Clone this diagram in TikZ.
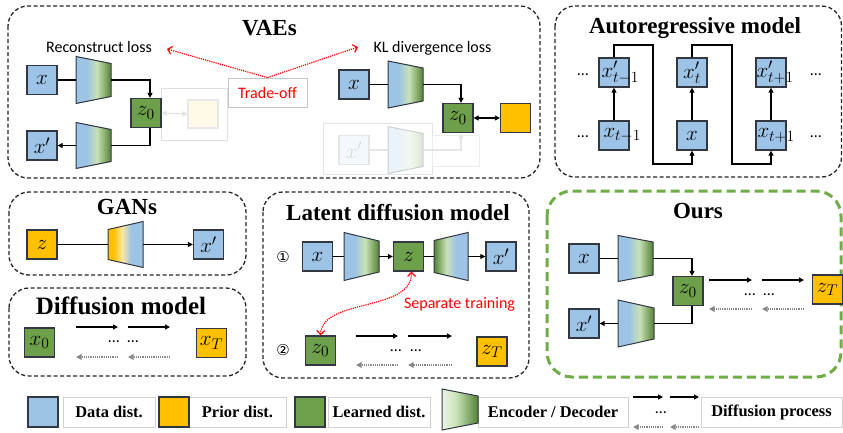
\RequirePackage{fix-cm}
\documentclass[tikz,border=0pt]{standalone}
\usepackage[no-math]{fontspec}
\setmainfont{Liberation Serif}
\newfontfamily\sansf{Carlito}
\newfontfamily\symf{DejaVu Sans}
\usetikzlibrary{arrows.meta}
\DeclareMathSizes{21}{21}{15.5}{11}
\definecolor{cblue}{RGB}{157,195,230}
\definecolor{cyellow}{RGB}{255,192,0}
\definecolor{cgreen}{RGB}{110,160,75}
\definecolor{cborder}{RGB}{50,55,65}
\definecolor{lgreen}{RGB}{200,226,182}
\definecolor{dgreen}{RGB}{84,130,53}
\definecolor{lyellow}{RGB}{255,232,160}
\definecolor{oursgreen}{RGB}{112,173,71}
\definecolor{dotgray}{RGB}{135,135,135}
\definecolor{palegreen}{RGB}{236,245,230}
\pgfdeclarehorizontalshading{encsh}{100bp}{color(0bp)=(cblue); color(40bp)=(cblue); color(55bp)=(lgreen); color(75bp)=(dgreen); color(100bp)=(dgreen)}
\pgfdeclarehorizontalshading{decsh}{100bp}{color(0bp)=(dgreen); color(25bp)=(dgreen); color(43bp)=(lgreen); color(58bp)=(cblue); color(100bp)=(cblue)}
\pgfdeclarehorizontalshading{gansh}{100bp}{color(0bp)=(cyellow); color(33bp)=(cyellow); color(45bp)=(lyellow); color(58bp)=(cblue); color(100bp)=(cblue)}
\pgfdeclarehorizontalshading{legsh}{100bp}{color(0bp)=(palegreen); color(25bp)=(palegreen); color(45bp)=(lgreen); color(75bp)=(dgreen); color(100bp)=(dgreen)}
\newcommand\mf{\fontsize{21}{21}\selectfont}
\newcommand\mytrap[7]{%
  \shadedraw[trapb,#7] (#2,#4-#5) -- (#3,#4-#6) -- (#3,#4+#6) -- (#2,#4+#5) -- cycle;
  \coordinate (#1-w) at (#2,#4);
  \coordinate (#1-e) at (#3,#4);}
\newcommand\diffgrp[7]{%
  \coordinate (#1a) at (#2,#6); \coordinate (#1b) at (#3,#6);
  \coordinate (#1c) at (#4,#6); \coordinate (#1d) at (#5,#6);
  \coordinate (#1e) at (#2,#7); \coordinate (#1f) at (#3,#7);
  \coordinate (#1g) at (#4,#7); \coordinate (#1h) at (#5,#7);
  \draw[arr] (#1a) -- (#1b); \draw[arr] (#1c) -- (#1d);
  \draw[grayarr] (#1f) -- (#1e); \draw[grayarr] (#1h) -- (#1g);}
\tikzset{
  box/.style={draw=cborder, line width=1.3pt, minimum width=30pt, minimum height=29pt, inner sep=0pt, font=\mf},
  bluebox/.style={box, fill=cblue},
  yellowbox/.style={box, fill=cyellow},
  greenbox/.style={box, fill=cgreen},
  panel/.style={draw=black!85, line width=1.3pt, dash pattern=on 4pt off 2.5pt, rounded corners=20pt},
  title/.style={font=\fontsize{23}{25}\selectfont\bfseries, anchor=base, inner sep=0pt},
  sanslbl/.style={font=\sansf\fontsize{16}{18}\selectfont, anchor=base, inner sep=0pt},
  mlbl/.style={font=\mf, inner sep=0pt},
  dots/.style={font=\sansf\fontsize{16}{16}\selectfont, inner sep=0pt},
  conn/.style={line width=1.4pt, black},
  arr/.style={conn, -{Triangle[length=5pt,width=5pt]}},
  grayarr/.style={line width=1.5pt, dotgray, dash pattern=on 1.2pt off 1pt, -{Triangle[length=5.5pt,width=5.5pt]}},
  redarr/.style={red, line width=1.2pt, densely dotted, -{Straight Barb[length=4pt,width=8pt]}},
  trapb/.style={draw=cborder, line width=1pt},
  encshade/.style={shading=encsh, shading angle=0},
  decshade/.style={shading=decsh, shading angle=0},
  ganshade/.style={shading=gansh, shading angle=0},
  legshade/.style={shading=legsh, shading angle=0},
  legbox/.style={draw=gray!35, line width=0.8pt, minimum height=30pt, inner sep=0pt, font=\fontsize{16.4}{18}\selectfont\bfseries},
}
\begin{document}
\begin{tikzpicture}[x=1pt,y=-1pt]
\useasboundingbox (0,0) rectangle (843,432);
\fill[white] (0,0) rectangle (843,432);

% ================= VAEs
\draw[panel] (8,6) rectangle (540,178);
\node[title] (tvae) at (269.5,35) {VAEs};
\node[sanslbl] (trec) at (99,52) {Reconstruct loss};
\node[sanslbl] (tkl) at (432.5,52) {KL divergence loss};
% faded prior
\draw[gray!25, line width=1pt] (161,88) rectangle (227,140);
\node[box, draw=gray!18, fill=cyellow!9, minimum height=28pt] (vfy) at (203,114) {};
\node[bluebox] (vx) at (42,80) {$x$};
\mytrap{venc}{76}{111}{80}{23.5}{16.5}{encshade}
\node[greenbox] (vz) at (146,113) {$z_0$};
\node[bluebox] (vxp) at (42,145.5) {$x'$};
\mytrap{vdec}{76}{111}{145.5}{23}{16}{encshade}
\draw[conn] (vx.east) -- (venc-w);
\draw[arr] (venc-e) -| ([xshift=4pt]vz.north);
\draw[conn] ([xshift=4pt]vz.south) |- (vdec-e);
\draw[arr] (vdec-w) -- (vxp.east);
\draw[gray!22, line width=1.2pt, {Triangle[length=5pt,width=5pt]}-{Triangle[length=5pt,width=5pt]}] (vz.east) -- (vfy.west);
% trade-off
\node[draw=gray!45, line width=0.8pt, minimum width=79pt, minimum height=29pt, inner sep=0pt, text=red, font=\sansf\fontsize{16}{18}\selectfont] (trade) at (267.5,92.5) {Trade-off};
\coordinate (rl) at (167,49);
\coordinate (rr) at (358,47);
\draw[redarr] (trade.north) -- (rl);
\draw[redarr] (trade.north) -- (rr);
% KL part faded
\draw[gray!22, line width=1pt] (323,123) rectangle (432,174);
\draw[gray!14, line width=1pt] (432,135) rectangle (479,166);
\node[box, draw=gray!20, fill=cblue!12, text=gray!30] (kxf) at (354,150) {$x'$};
\mytrap{kdec}{388}{423}{150}{23.5}{16.5}{encshade, fill opacity=0.2, draw opacity=0.2}
\draw[gray!20, line width=1.2pt] (kxf.east) -- (kdec-w);
% KL part
\node[bluebox] (kx) at (354,84.5) {$x$};
\mytrap{kenc}{388}{423}{84.5}{23.5}{16.5}{encshade}
\node[greenbox] (kz) at (458,118) {$z_0$};
\node[yellowbox] (ky) at (515.5,118) {};
\draw[conn] (kx.east) -- (kenc-w);
\draw[arr] (kenc-e) -| ([xshift=3pt]kz.north);
\draw[gray!20, line width=1.2pt, -{Triangle[length=5pt,width=5pt]}] (kdec-e) -| ([xshift=3pt]kz.south);
\draw[conn, {Triangle[length=5pt,width=5pt]}-{Triangle[length=5pt,width=5pt]}] (kz.east) -- (ky.west);

% ================= Autoregressive
\draw[panel] (555,6) rectangle (841.5,177);
\node[title] (tar) at (695,33) {Autoregressive model};
\node[bluebox] (a1p) at (614,72.5) {};
\node[bluebox] (a1) at (614,135.5) {};
\node[bluebox] (a2p) at (692,72.5) {$x'_t$};
\node[bluebox] (a2) at (692,135.5) {$x$};
\node[bluebox] (a3p) at (771,72.5) {};
\node[bluebox] (a3) at (771,135.5) {};
\node[mlbl, anchor=west] (a1pl) at ([xshift=3pt]a1p.west) {$x'_{t-1}$};
\node[mlbl, anchor=west] (a1l) at ([xshift=5pt]a1.west) {$x_{t-1}$};
\node[mlbl, anchor=west] (a3pl) at ([xshift=1pt]a3p.west) {$x'_{t+1}$};
\node[mlbl, anchor=west] (a3l) at ([xshift=2pt]a3.west) {$x_{t+1}$};
\draw[arr] (a1.north) -- (a1p.south);
\draw[arr] (a2.north) -- (a2p.south);
\draw[arr] (a3.north) -- (a3p.south);
\coordinate (r1a) at (653,45); \coordinate (r1b) at (653,164);
\coordinate (r2a) at (732,45); \coordinate (r2b) at (732,164);
\draw[arr] (a1p.north) |- (r1a) -- (r1b) -| (a2.south);
\draw[arr] (a2p.north) |- (r2a) -- (r2b) -| (a3.south);
\node[dots] (ad1) at (583,75) {\ldots};
\node[dots] (ad2) at (583,137) {\ldots};
\node[dots] (ad3) at (816,75) {\ldots};
\node[dots] (ad4) at (816,137) {\ldots};

% ================= GANs
\draw[panel] (9,192) rectangle (246,275);
\node[title] (tgan) at (127,214) {GANs};
\node[yellowbox] (gz) at (42,244.5) {$z$};
\mytrap{gtr}{108}{143}{244.5}{15}{23}{ganshade}
\node[bluebox] (gx) at (208.5,244.5) {$x'$};
\draw[conn] (gz.east) -- (gtr-w);
\draw[arr] (gtr-e) -- (gx.west);

% ================= Diffusion model
\draw[panel] (9,288) rectangle (246,376);
\node[title, font=\fontsize{25}{27}\selectfont\bfseries] (tdm) at (121,314) {Diffusion model};
\node[greenbox] (dx0) at (39.5,342.5) {$x_0$};
\node[yellowbox] (dxT) at (211.5,343) {$x_T$};
\diffgrp{dm}{76}{118}{128}{170}{327}{357}
\node[dots] (dd1) at (114,342) {\ldots};
\node[dots] (dd2) at (133,342) {\ldots};

% ================= Latent diffusion
\draw[panel] (263,192) rectangle (529,378);
\node[title] (tld) at (398,220) {Latent diffusion model};
\node[font=\symf\fontsize{15}{15}\selectfont, inner sep=0pt] (n1) at (283,257) {①};
\node[font=\symf\fontsize{15}{15}\selectfont, inner sep=0pt] (n2) at (283,350) {②};
\node[bluebox] (lx) at (317.5,256.5) {$x$};
\mytrap{lenc}{344}{379}{256.5}{24}{15.5}{encshade}
\node[greenbox] (lz) at (408.5,256.5) {$z$};
\mytrap{ldec}{434}{468}{256.5}{16}{24}{decshade}
\node[bluebox] (lxp) at (501,256.5) {$x'$};
\draw[conn] (lx.east) -- (lenc-w);
\draw[arr] (lenc-e) -- (lz.west);
\draw[conn] (lz.east) -- (ldec-w);
\draw[arr] (ldec-e) -- (lxp.west);
\node[sanslbl, text=red] (tsep) at (459.5,308) {Separate training};
\node[greenbox] (lz0) at (320.5,350.5) {$z_0$};
\node[yellowbox] (lzT) at (492,351.5) {$z_T$};
\draw[red, line width=1.2pt, densely dotted, {Straight Barb[length=4pt,width=8pt]}-{Straight Barb[length=4pt,width=8pt]}]
  ([xshift=3pt]lz.south) .. controls (412,312) and (322,298) .. (lz0.north);
\diffgrp{ld}{356}{398}{408}{452}{336}{365}
\node[dots] (ldd1) at (396,351) {\ldots};
\node[dots] (ldd2) at (416,351) {\ldots};

% ================= Ours
\draw[draw=oursgreen, line width=3pt, dash pattern=on 9pt off 5pt, rounded corners=25pt] (547,191) rectangle (841,377);
\node[title] (tours) at (698,218) {Ours};
\node[bluebox] (ox) at (584,258.5) {$x$};
\mytrap{oenc}{618}{653}{258.5}{23}{16.5}{encshade}
\node[greenbox] (oz) at (688,291) {$z_0$};
\node[bluebox] (oxp) at (584,323.5) {$x'$};
\mytrap{odec}{618}{654}{323.5}{23.5}{15.5}{encshade}
\draw[conn] (ox.east) -- (oenc-w);
\draw[arr] (oenc-e) -| ([xshift=4pt]oz.north);
\draw[conn] ([xshift=4pt]oz.south) |- (odec-e);
\draw[arr] (odec-w) -- (oxp.east);
\diffgrp{ou}{709}{752}{762}{804}{280}{309}
\node[dots] (od1) at (750,295) {\ldots};
\node[dots] (od2) at (769,295) {\ldots};
\node[yellowbox] (ozT) at (827.5,289.5) {$z_T$};

% ================= Legend
\node[legbox, minimum width=92pt] (lt1) at (109,412) {Data dist.};
\node[bluebox, minimum height=30pt] (lb1) at (43,412) {};
\node[legbox, minimum width=97pt] (lt2) at (237.5,412) {Prior dist.};
\node[yellowbox, minimum height=30pt] (lb2) at (174,412) {};
\node[legbox, minimum width=102pt] (lt3) at (379,412) {Learned dist.};
\node[greenbox, minimum height=30pt] (lb3) at (310,412) {};
\node[legbox, minimum width=150pt] (lt4) at (553,412) {Encoder / Decoder};
\mytrap{lgt}{442}{478}{409.5}{20.5}{13.5}{legshade}
\diffgrp{lg}{633}{663}{670}{699}{397}{427}
\node[dots] (lgd) at (661,413) {\ldots};
\node[legbox, minimum width=141pt] (lt5) at (771.5,412.5) {Diffusion process};
\end{tikzpicture}
\end{document}
